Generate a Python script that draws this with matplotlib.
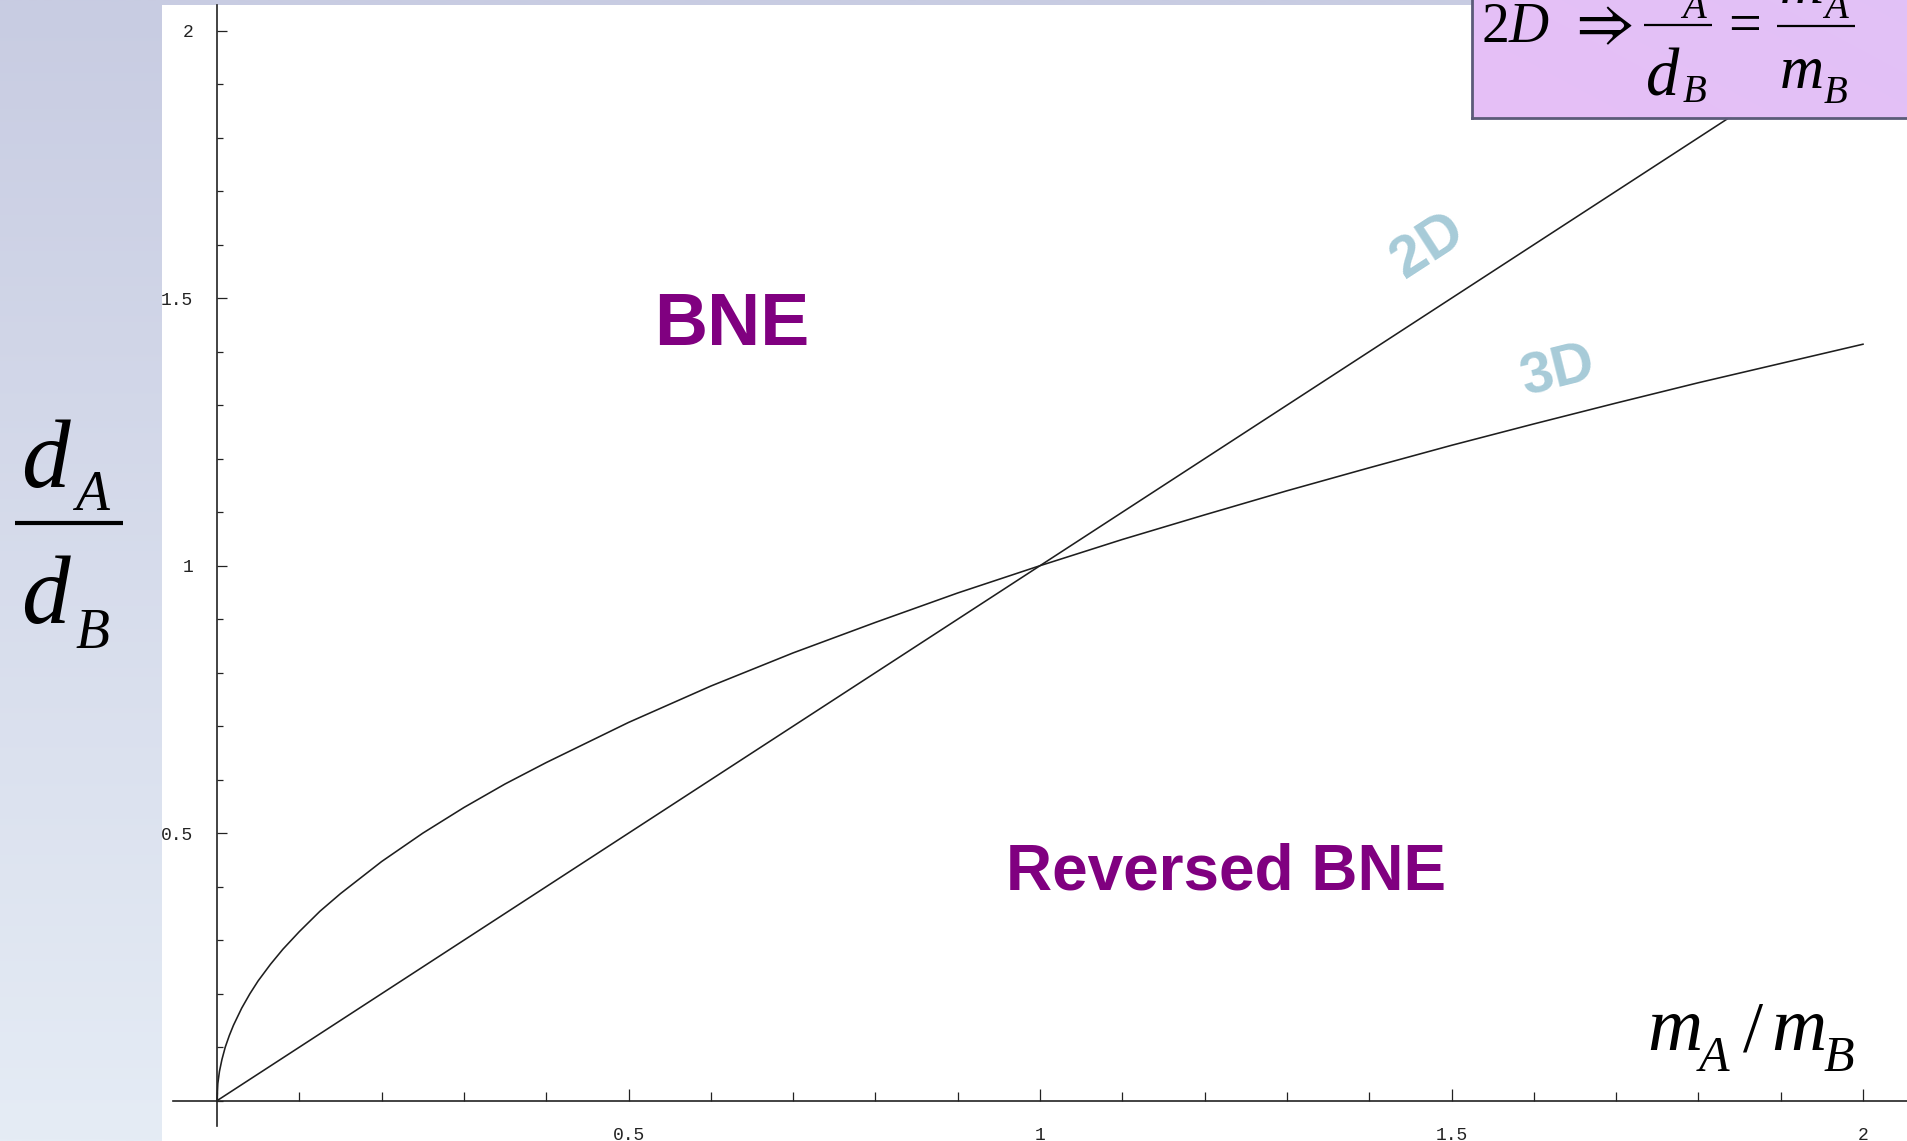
import numpy as np
import matplotlib
matplotlib.use("Agg")
import matplotlib.pyplot as plt
from matplotlib.lines import Line2D
from matplotlib.ticker import FixedLocator, MultipleLocator, FixedFormatter

# ---- data ----------------------------------------------------------------
# 2D case: distance ratio equals the mass ratio
mass_ratio_2d = [0.0, 0.5, 1.0, 1.5, 2.0]
dist_ratio_2d = [0.0, 0.5, 1.0, 1.5, 2.0]

# 3D case: distance ratio grows more slowly with the mass ratio
mass_ratio_3d = [0.0, 0.001, 0.003, 0.006, 0.01, 0.015, 0.02, 0.03, 0.04, 0.05,
                 0.065, 0.08, 0.1, 0.125, 0.15, 0.2, 0.25, 0.3, 0.35, 0.4,
                 0.5, 0.6, 0.7, 0.8, 0.9, 1.0, 1.1, 1.2, 1.3, 1.4,
                 1.5, 1.6, 1.7, 1.8, 1.9, 2.0]
dist_ratio_3d = [0.0, 0.032, 0.055, 0.077, 0.1, 0.122, 0.141, 0.173, 0.2, 0.224,
                 0.255, 0.283, 0.316, 0.354, 0.387, 0.447, 0.5, 0.548, 0.592, 0.632,
                 0.707, 0.775, 0.837, 0.894, 0.949, 1.0, 1.049, 1.095, 1.14, 1.183,
                 1.225, 1.265, 1.304, 1.342, 1.378, 1.414]

x_tick_values = [0.5, 1.0, 1.5, 2.0]
x_tick_labels = ["0.5", "1", "1.5", "2"]
y_tick_values = [0.5, 1.0, 1.5, 2.0]
y_tick_labels = ["0.5", "1", "1.5", "2"]

# ---- figure ----------------------------------------------------------------
W, H, DPI = 1907, 1141, 100
fig = plt.figure(figsize=(W / DPI, H / DPI), dpi=DPI)


def fx(px):
    return px / W


def fy(py):
    return 1.0 - py / H


# slide background: soft vertical lavender-to-pale-blue gradient
bg = fig.add_axes([0, 0, 1, 1], zorder=0)
top_c = np.array([200, 204, 226]) / 255.0
bot_c = np.array([229, 236, 245]) / 255.0
t = np.linspace(0, 1, 256)[:, None]
grad = top_c[None, None, :] * (1 - t[:, :, None]) + bot_c[None, None, :] * t[:, :, None]
bg.imshow(grad, aspect="auto", extent=[0, 1, 0, 1], interpolation="bilinear")
bg.set_axis_off()

# plot area
x_origin_px, x_scale = 217.0, 823.0
y_origin_px, y_scale = 1100.7, 535.0
left_px, top_px = 162.0, 5.0
ax = fig.add_axes([fx(left_px), 0.0, 1.0 - fx(left_px), fy(top_px)], zorder=1)
ax.set_facecolor("white")
ax.set_xlim((left_px - x_origin_px) / x_scale, (W - x_origin_px) / x_scale)
ax.set_ylim((y_origin_px - H) / y_scale, (y_origin_px - top_px) / y_scale)

line_kw = dict(color="#1e1e1e", lw=1.15, solid_joinstyle="miter")
ax.plot(mass_ratio_2d, dist_ratio_2d, **line_kw)
ax.plot(mass_ratio_3d, dist_ratio_3d, **line_kw)

for s in ("top", "right"):
    ax.spines[s].set_visible(False)
ax.spines["left"].set_position(("data", 0))
ax.spines["bottom"].set_position(("data", 0))
ax.spines["left"].set_bounds(-0.047, ax.get_ylim()[1])
ax.spines["bottom"].set_bounds(-0.053, ax.get_xlim()[1])
for s in ("left", "bottom"):
    ax.spines[s].set_linewidth(1.2)
    ax.spines[s].set_color("#222222")

ax.xaxis.set_major_locator(FixedLocator(x_tick_values))
ax.xaxis.set_major_formatter(FixedFormatter(x_tick_labels))
ax.yaxis.set_major_locator(FixedLocator(y_tick_values))
ax.yaxis.set_major_formatter(FixedFormatter(y_tick_labels))
ax.xaxis.set_minor_locator(MultipleLocator(0.1))
ax.yaxis.set_minor_locator(MultipleLocator(0.1))

ax.tick_params(axis="x", which="major", direction="in", length=9, width=0.9,
               color="#222222", pad=19, labelsize=13, labelcolor="#222222")
ax.tick_params(axis="x", which="minor", direction="in", length=6.5, width=0.9,
               color="#222222")
ax.tick_params(axis="y", which="major", direction="in", length=7.5, width=0.9,
               color="#222222", pad=17, labelsize=13, labelcolor="#222222")
ax.tick_params(axis="y", which="minor", direction="in", length=4.5, width=0.9,
               color="#222222")
for lab in ax.get_xticklabels() + ax.get_yticklabels():
    lab.set_fontfamily("Liberation Mono")

# region labels
purple = "#800080"
fig.text(fx(732), fy(345), "BNE", ha="center", va="baseline", fontsize=53,
         fontweight="bold", family="Liberation Sans", color=purple, zorder=5)
fig.text(fx(1226), fy(890), "Reversed BNE", ha="center", va="baseline", fontsize=46,
         fontweight="bold", family="Liberation Sans", color=purple, zorder=5)

# curve labels
blue = "#a7cbd8"
fig.text(fx(1428), fy(246), "2D", ha="center", va="center", rotation=33,
         rotation_mode="anchor", fontsize=42, fontweight="bold",
         family="Liberation Sans", color=blue, zorder=5)
fig.text(fx(1558), fy(372), "3D", ha="center", va="center", rotation=14,
         rotation_mode="anchor", fontsize=42, fontweight="bold",
         family="Liberation Sans", color=blue, zorder=5)

serif_it = dict(family="Liberation Serif", style="italic", color="black", zorder=5)
serif = dict(family="Liberation Serif", color="black", zorder=5)

# y-axis title: d_A / d_B as a stacked fraction
fig.text(fx(21), fy(487), "d", fontsize=70, va="baseline", ha="left", **serif_it)
fig.text(fx(75), fy(510), "A", fontsize=40, va="baseline", ha="left", **serif_it)
fig.text(fx(21), fy(623), "d", fontsize=70, va="baseline", ha="left", **serif_it)
fig.text(fx(75), fy(648), "B", fontsize=40, va="baseline", ha="left", **serif_it)
fig.add_artist(Line2D([fx(15), fx(123)], [fy(523), fy(523)], transform=fig.transFigure,
                      color="black", lw=3.0, solid_capstyle="butt", zorder=5))

# x-axis title: m_A / m_B
fig.text(fx(1647), fy(1050), "m", fontsize=55, va="baseline", ha="left", **serif_it)
fig.text(fx(1699), fy(1071), "A", fontsize=36, va="baseline", ha="left", **serif_it)
fig.text(fx(1743), fy(1050), "/", fontsize=52, va="baseline", ha="left", **serif)
fig.text(fx(1771), fy(1050), "m", fontsize=55, va="baseline", ha="left", **serif_it)
fig.text(fx(1824), fy(1071), "B", fontsize=36, va="baseline", ha="left", **serif_it)

# formula box in the upper right corner
box = fig.add_axes([fx(1472), fy(118), 1.0, 0.3], zorder=6)
left_c = np.array([230, 191, 246]) / 255.0
right_c = np.array([213, 201, 250]) / 255.0
u = np.linspace(0, 1, 128)[None, :]
v = np.linspace(0, 1, 64)[:, None]
mix = np.clip(0.75 * u + 0.25 * (1 - v), 0, 1)
box_grad = left_c[None, None, :] * (1 - mix[:, :, None]) + right_c[None, None, :] * mix[:, :, None]
box.imshow(box_grad, aspect="auto", extent=[0, 1, 0, 1], interpolation="bilinear")
box.set_xticks([])
box.set_yticks([])
for s in ("top", "right"):
    box.spines[s].set_visible(False)
for s in ("left", "bottom"):
    box.spines[s].set_linewidth(2.0)
    box.spines[s].set_color("#5b5b78")

box_txt = dict(family="Liberation Serif", color="black", zorder=7)
box_it = dict(family="Liberation Serif", style="italic", color="black", zorder=7)
fig.text(fx(1481), fy(42), "2", fontsize=40, va="baseline", ha="left", **box_txt)
fig.text(fx(1509), fy(42), "D", fontsize=40, va="baseline", ha="left", **box_it)
fig.text(fx(1599), fy(42), r"$\Rightarrow$", fontsize=46, va="baseline", ha="center",
         math_fontfamily="stix", color="black", zorder=7)
fig.text(fx(1745), fy(42), "=", fontsize=42, va="baseline", ha="center", **box_txt)
fig.add_artist(Line2D([fx(1644), fx(1712)], [fy(25), fy(25)], transform=fig.transFigure,
                      color="black", lw=1.6, solid_capstyle="butt", zorder=7))
fig.add_artist(Line2D([fx(1777), fx(1855)], [fy(26), fy(26)], transform=fig.transFigure,
                      color="black", lw=1.6, solid_capstyle="butt", zorder=7))
fig.text(fx(1646), fy(0), "d", fontsize=48, va="baseline", ha="left", **box_it)
fig.text(fx(1682), fy(18), "A", fontsize=28, va="baseline", ha="left", **box_it)
fig.text(fx(1646), fy(95), "d", fontsize=48, va="baseline", ha="left", **box_it)
fig.text(fx(1683), fy(102), "B", fontsize=28, va="baseline", ha="left", **box_it)
fig.text(fx(1780), fy(3), "m", fontsize=44, va="baseline", ha="left", **box_it)
fig.text(fx(1824), fy(18), "A", fontsize=28, va="baseline", ha="left", **box_it)
fig.text(fx(1780), fy(88), "m", fontsize=44, va="baseline", ha="left", **box_it)
fig.text(fx(1824), fy(103), "B", fontsize=28, va="baseline", ha="left", **box_it)

fig.savefig("out.png", dpi=DPI)
